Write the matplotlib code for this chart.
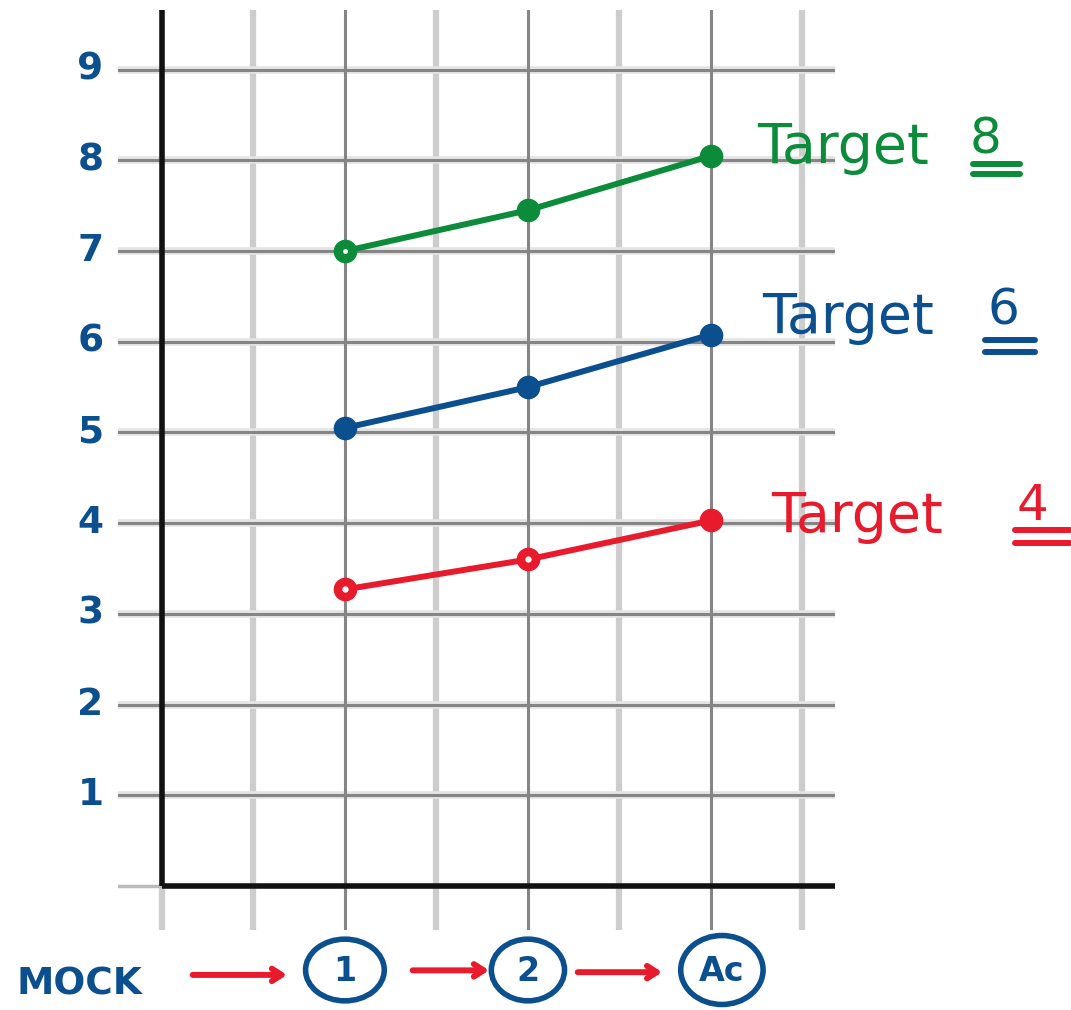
import matplotlib
matplotlib.use("Agg")
import matplotlib.pyplot as plt
from matplotlib.patches import Ellipse

# ---- data ----
stages = ["1", "2", "Ac"]
stage_x = [1, 2, 3]
green_vals = [7.0, 7.45, 8.05]
blue_vals = [5.05, 5.5, 6.08]
red_vals = [3.27, 3.6, 4.03]
targets = ["8", "6", "4"]
y_ticks = [1, 2, 3, 4, 5, 6, 7, 8, 9]
x_label = "MOCK"

BLUE = "#0b4f8f"
GREEN = "#0c8b3b"
RED = "#e81b2d"
DARK_GRID = "#858585"
LIGHT_GRID = "#cdcdcd"

plt.rcParams["font.family"] = ["DejaVu Sans"]

fig = plt.figure(figsize=(10.71, 10.10), dpi=100)
ax = fig.add_axes([118 / 1071, 80 / 1010, 717 / 1071, 920 / 1010])
ax.set_xlim(-0.24, 3.678)
ax.set_ylim(-0.485, 9.658)
ax.axis("off")

# vertical grid lines
for xv in [0.5, 1.5, 2.5, 3.5]:
    ax.axvline(xv, color=LIGHT_GRID, lw=4.5, zorder=1)
ax.plot([0, 0], [-0.485, 0], color=LIGHT_GRID, lw=4.5, zorder=1)
for xv in stage_x:
    ax.axvline(xv, color=DARK_GRID, lw=2.2, zorder=1.2)

# horizontal grid lines
for yv in y_ticks:
    ax.axhline(yv, color="#e4e4e4", lw=5.5, zorder=1.1)
    ax.axhline(yv, color=DARK_GRID, lw=2.2, zorder=1.3)
ax.plot([-0.24, 0], [0, 0], color="#bbbbbb", lw=2.5, zorder=1.3)

# main axes (black)
ax.plot([0, 0], [0, 9.658], color="#111111", lw=4, zorder=2, solid_capstyle="butt")
ax.plot([0, 3.678], [0, 0], color="#111111", lw=4, zorder=2, solid_capstyle="butt")

# y tick labels
for yv in y_ticks:
    ax.text(-0.39, yv, str(yv), color=BLUE, fontsize=27, fontweight="bold",
            ha="center", va="center", clip_on=False)

# series with label layout: (values, colour, target,
#   Target-word offset, number offset, underline x-range offset, underline y offsets)
series = [
    (green_vals, GREEN, targets[0], (0.25, -0.08), (1.415, 0.03), (1.43, 1.69), (-0.09, -0.20)),
    (blue_vals, BLUE, targets[1], (0.28, 0.02), (1.51, 0.11), (1.50, 1.77), (-0.06, -0.19)),
    (red_vals, RED, targets[2], (0.33, -0.13), (1.67, 0.01), (1.66, 1.96), (-0.10, -0.25)),
]
for vals, col, tgt, toff, noff, ux, uy in series:
    ax.plot(stage_x, vals, color=col, lw=4.3, zorder=3, solid_capstyle="round")
    ax.plot(stage_x, vals, "o", color=col, ms=16, zorder=4)
    x_end, y_end = stage_x[-1], vals[-1]
    ax.text(x_end + toff[0], y_end + toff[1], "Target", color=col, fontsize=40,
            ha="left", va="baseline", clip_on=False)
    ax.text(x_end + noff[0], y_end + noff[1], tgt, color=col, fontsize=36,
            ha="left", va="baseline", clip_on=False)
    for dy in uy:
        ax.plot([x_end + ux[0], x_end + ux[1]], [y_end + dy, y_end + dy], color=col,
                lw=4.3, solid_capstyle="round", clip_on=False, zorder=5)

# hollow centres on the first red points and first green point
ax.plot(stage_x[:2], red_vals[:2], "o", color="white", ms=3.5, zorder=5)
ax.plot(stage_x[:1], green_vals[:1], "o", color="white", ms=2.5, zorder=5)

# bottom stage labels (MOCK -> 1 -> 2 -> Ac)
ax.text(-0.448, -1.09, x_label, color=BLUE, fontsize=27, fontweight="bold",
        ha="center", va="center", clip_on=False)
circle_x = [1.0, 2.0, 3.06]
circle_w = [0.43, 0.40, 0.45]
circle_h = [0.68, 0.68, 0.76]
for cx, cw, ch, lab in zip(circle_x, circle_w, circle_h, stages):
    e = Ellipse((cx, -0.926), width=cw, height=ch, fill=False, ec=BLUE,
                lw=4, clip_on=False, zorder=5)
    ax.add_patch(e)
    ax.text(cx, -0.94, lab, color=BLUE, fontsize=24, fontweight="bold",
            ha="center", va="center", clip_on=False)
arrow_spans = [(0.153, 0.699, -0.98), (1.355, 1.803, -0.93), (2.257, 2.749, -0.95)]
for a0, a1, ay in arrow_spans:
    ax.annotate("", xy=(a1, ay), xytext=(a0, ay),
                arrowprops=dict(arrowstyle="->,head_length=0.7,head_width=0.45",
                                color=RED, lw=4.3, capstyle="round",
                                joinstyle="round"),
                annotation_clip=False)

fig.savefig("out.png", dpi=100)
